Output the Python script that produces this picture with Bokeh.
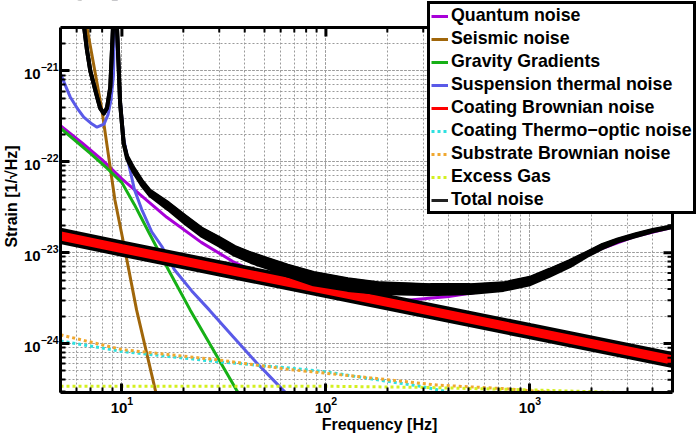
import math
from bokeh.plotting import figure
from bokeh.models import Legend, LegendItem, BoxAnnotation, Range1d
from bokeh.embed import file_html
from bokeh.resources import INLINE

# ---- data (frequency [Hz], strain [1/sqrt(Hz)]) ----
quantum_f = [5, 6.4, 8, 10, 12.2, 16.6, 24.5, 35, 50, 70, 100, 150, 250, 400, 600, 1000, 1570, 2270, 3310, 5000]
quantum_h = [2.5e-22, 1.6e-22, 1.05e-22, 6.5e-23, 4.4e-23, 2.45e-23, 1.3e-23, 8.0e-24, 5.5e-24, 4.1e-24,
             3.4e-24, 3.0e-24, 3.0e-24, 3.3e-24, 3.8e-24, 4.9e-24, 7.6e-24, 1.12e-23, 1.52e-23, 1.9e-23]

seismic_f = [6.5, 6.74, 7.98, 9.24, 10.35, 11.8, 14.65, 16]
seismic_h = [5e-21, 3.0e-21, 3.7e-22, 3.8e-23, 1.07e-23, 2.35e-24, 2.95e-25, 1.3e-25]

gravity_f = [5, 7, 8.45, 10, 11.5, 13.5, 16.9, 21.6, 36.4, 40]
gravity_h = [2.34e-22, 1.24e-22, 8.5e-23, 5.9e-23, 3.4e-23, 1.7e-23, 6.5e-24, 2.35e-24, 3.1e-25, 2.2e-25]

susp_f = [5, 5.57, 6.03, 6.5, 7.14, 7.55, 8.17, 8.55, 8.84, 9.09, 9.3, 9.55, 9.8, 10.2, 10.8, 11.5, 12.5,
          14, 15.7, 18.1, 22, 26.8, 35, 45.6, 61.5, 70]
susp_h = [9.3e-22, 5.2e-22, 3.9e-22, 3.1e-22, 2.6e-22, 2.4e-22, 2.6e-22, 3.3e-22, 4.8e-22, 8.9e-22, 1e-20,
          2e-21, 5e-22, 1.8e-22, 9.5e-23, 5e-23, 3.0e-23, 1.7e-23, 1.17e-23, 6.5e-24, 3.8e-24, 2.35e-24,
          1.2e-24, 6.2e-25, 3.1e-25, 2.3e-25]

coat_brown_f = [5, 10, 100, 1000, 5000]
coat_brown_h = [1.53e-23, 1.11e-23, 3.9e-24, 1.37e-24, 6.6e-25]

coat_to_f = [5, 10, 30, 66, 100, 166, 290, 410, 600]
coat_to_h = [1.07e-24, 8.2e-25, 6.3e-25, 5.4e-25, 4.9e-25, 4.1e-25, 3.4e-25, 2.9e-25, 2.2e-25]

subst_f = [5, 10, 30, 66, 166, 350, 740, 1070, 2000]
subst_h = [1.25e-24, 8.6e-25, 6.6e-25, 5.2e-25, 4.2e-25, 3.5e-25, 3.2e-25, 3.0e-25, 2.7e-25]

gas_f = [5, 100, 300, 1000, 2700, 5000]
gas_h = [3.4e-25, 3.4e-25, 3.3e-25, 3.1e-25, 2.9e-25, 2.6e-25]

total_f = [6.2, 6.53, 6.74, 7.0, 7.55, 7.82, 8.15, 8.45, 8.77, 9.04, 9.2, 9.46, 9.61, 9.8, 10.2, 10.6,
           11.4, 12.5, 13.7, 16.9, 20.5, 24.5, 30, 35.6, 43, 52, 65, 87, 128, 185, 325, 510, 741, 1000,
           1250, 1567, 1900, 2270, 2700, 3310, 4000, 5000]
total_hi = [6e-21, 3.0e-21, 1.7e-21, 1.0e-21, 5.2e-22, 3.9e-22, 3.4e-22, 3.9e-22, 6.6e-22, 3.0e-21, 1e-20,
            3.0e-21, 1.3e-21, 4.4e-22, 1.6e-22, 1.15e-22, 8.5e-23, 6.2e-23, 4.8e-23, 3.5e-23, 2.5e-23,
            1.85e-23, 1.45e-23, 1.16e-23, 9.8e-24, 8.5e-24, 7.2e-24, 6.0e-24, 5.1e-24, 4.6e-24, 4.4e-24,
            4.4e-24, 4.6e-24, 5.3e-24, 6.5e-24, 8.1e-24, 1.0e-23, 1.22e-23, 1.4e-23, 1.6e-23, 1.78e-23, 1.96e-23]
total_lo = [6e-21, 3.0e-21, 1.7e-21, 1.0e-21, 5.2e-22, 3.9e-22, 3.4e-22, 3.9e-22, 6.6e-22, 3.0e-21, 1e-20,
            3.0e-21, 1.3e-21, 4.4e-22, 1.6e-22, 1.08e-22, 7.8e-23, 5.6e-23, 4.3e-23, 3.0e-23, 2.1e-23,
            1.55e-23, 1.2e-23, 9.5e-24, 7.9e-24, 6.8e-24, 5.6e-24, 4.5e-24, 3.9e-24, 3.6e-24, 3.5e-24,
            3.6e-24, 3.9e-24, 4.5e-24, 5.6e-24, 7.1e-24, 9.2e-24, 1.13e-23, 1.33e-23, 1.52e-23, 1.72e-23, 1.92e-23]

x_limits = (5, 5000)
y_limits = (2.9e-25, 3.0e-21)
x_major = [10, 100, 1000]
y_major = [1e-24, 1e-23, 1e-22, 1e-21]

FONT = "Liberation Sans"

# pixel geometry of the axes box inside the 698x436 page
W, H = 698, 436
BOX_L, BOX_R, BOX_T, BOX_B = 60, 672, 27, 392
ppd_x = (BOX_R - BOX_L) / math.log10(x_limits[1] / x_limits[0])
ppd_y = (BOX_B - BOX_T) / math.log10(y_limits[1] / y_limits[0])
x_ext = x_limits[1] * 10 ** ((W - BOX_R) / ppd_x)
y_ext = y_limits[1] * 10 ** (BOX_T / ppd_y)

p = figure(width=W, height=H, x_axis_type="log", y_axis_type="log",
           x_range=Range1d(x_limits[0], x_ext), y_range=Range1d(y_limits[0], y_ext),
           output_backend="svg", toolbar_location=None,
           min_border_left=BOX_L, min_border_right=0, min_border_top=0, min_border_bottom=H - BOX_B,
           x_axis_label="Frequency [Hz]", y_axis_label="Strain [1/\u221aHz]")

p.background_fill_color = "white"
p.border_fill_color = "white"
p.outline_line_color = None

for g in (p.xgrid[0], p.ygrid[0]):
    g.grid_line_color = "#9a9a9a"
    g.grid_line_dash = "2 2"
    g.grid_line_width = 1
    g.minor_grid_line_color = "#9a9a9a"
    g.minor_grid_line_dash = "2 2"
    g.minor_grid_line_width = 1

for ax in (p.xaxis[0], p.yaxis[0]):
    ax.axis_line_width = 3
    ax.axis_line_color = "black"
    ax.major_tick_in = 9
    ax.major_tick_out = 0
    ax.minor_tick_in = 5
    ax.minor_tick_out = 0
    ax.major_tick_line_width = 3
    ax.minor_tick_line_width = 2
    ax.major_tick_line_color = "black"
    ax.minor_tick_line_color = "black"
    ax.major_label_text_font = FONT
    ax.major_label_text_font_style = "bold"
    ax.major_label_text_font_size = "15px"
    ax.major_label_text_color = "black"
    ax.major_label_standoff = 2
    ax.axis_label_text_font = FONT
    ax.axis_label_text_font_style = "bold"
    ax.axis_label_text_font_size = "16px"
    ax.axis_label_text_color = "black"
    ax.axis_label_standoff = 1
p.xaxis[0].bounds = x_limits
p.yaxis[0].bounds = y_limits
p.xaxis[0].major_label_standoff = 4
p.xaxis[0].axis_label_standoff = 0

# legend-only keys, hidden beneath the wide bands
r_cb_key = p.line(coat_brown_f, coat_brown_h, line_color="#ff0000", line_width=3)
r_t_key = p.line(total_f, total_hi, line_color="#222222", line_width=3)

r_q = p.line(quantum_f, quantum_h, line_color="#a800d8", line_width=3)
r_s = p.line(seismic_f, seismic_h, line_color="#a0660a", line_width=3)
r_g = p.line(gravity_f, gravity_h, line_color="#16b016", line_width=3)
r_st = p.line(susp_f, susp_h, line_color="#5a5ae8", line_width=3)
p.line(coat_brown_f, coat_brown_h, line_color="black", line_width=16)
p.line(coat_brown_f, coat_brown_h, line_color="#ff0000", line_width=9)
r_to = p.line(coat_to_f, coat_to_h, line_color="#2ee0e0", line_width=3, line_dash="3 3")
r_sb = p.line(subst_f, subst_h, line_color="#f0a830", line_width=3, line_dash="3 3")
r_eg = p.line(gas_f, gas_h, line_color="#d4f020", line_width=3, line_dash="3 3")
p.varea(x=total_f, y1=total_lo, y2=total_hi, fill_color="black")
p.line(total_f, total_hi, line_color="black", line_width=4, line_join="round")
p.line(total_f, total_lo, line_color="black", line_width=4, line_join="round")

# white margins outside the box (top strip and right strip), drawn over the data
p.quad(left=[x_limits[0] / 10, x_limits[1]], right=[x_ext * 10, x_ext * 10],
       bottom=[y_limits[1], y_limits[0] / 10], top=[y_ext * 10, y_ext * 10],
       fill_color="white", line_color="white", line_width=1)

# inward ticks on the top and right edges of the box
def minor_positions(lo, hi):
    out = []
    for k in range(math.floor(math.log10(lo)) - 1, math.ceil(math.log10(hi)) + 1):
        for m in range(2, 10):
            v = m * 10.0 ** k
            if lo * 1.0001 < v < hi * 0.9999:
                out.append(v)
    return out

x_minor = minor_positions(*x_limits)
y_minor = minor_positions(*y_limits)
p.segment(x0=x_major, y0=[y_limits[1]] * len(x_major), x1=x_major,
          y1=[y_limits[1] / 10 ** (9 / ppd_y)] * len(x_major), line_color="black", line_width=3)
p.segment(x0=x_minor, y0=[y_limits[1]] * len(x_minor), x1=x_minor,
          y1=[y_limits[1] / 10 ** (5 / ppd_y)] * len(x_minor), line_color="black", line_width=2)
p.segment(x0=[x_limits[1]] * len(y_major), y0=y_major, x1=[x_limits[1] / 10 ** (9 / ppd_x)] * len(y_major),
          y1=y_major, line_color="black", line_width=3)
p.segment(x0=[x_limits[1]] * len(y_minor), y0=y_minor, x1=[x_limits[1] / 10 ** (5 / ppd_x)] * len(y_minor),
          y1=y_minor, line_color="black", line_width=2)

# grid-free white margins (annotation level covers the underlay grid), then the box outline
p.add_layout(BoxAnnotation(left=x_limits[0] / 10, right=x_ext * 10, bottom=y_limits[1], top=y_ext * 10,
                           fill_color="white", fill_alpha=1, line_color=None))
p.add_layout(BoxAnnotation(left=x_limits[1], right=x_ext * 10, bottom=y_limits[0] / 10, top=y_ext * 10,
                           fill_color="white", fill_alpha=1, line_color=None))
p.add_layout(BoxAnnotation(left=x_limits[0], right=x_limits[1], bottom=y_limits[0], top=y_limits[1],
                           fill_color=None, fill_alpha=0, line_color="black", line_alpha=1, line_width=3))

legend = Legend(items=[
    LegendItem(label="Quantum noise", renderers=[r_q]),
    LegendItem(label="Seismic noise", renderers=[r_s]),
    LegendItem(label="Gravity Gradients", renderers=[r_g]),
    LegendItem(label="Suspension thermal noise", renderers=[r_st]),
    LegendItem(label="Coating Brownian noise", renderers=[r_cb_key]),
    LegendItem(label="Coating Thermo\u2212optic noise", renderers=[r_to]),
    LegendItem(label="Substrate Brownian noise", renderers=[r_sb]),
    LegendItem(label="Excess Gas", renderers=[r_eg]),
    LegendItem(label="Total noise", renderers=[r_t_key]),
], location=(367, 178))
legend.border_line_color = "black"
legend.border_line_alpha = 1
legend.border_line_width = 3
legend.background_fill_color = "white"
legend.background_fill_alpha = 1
legend.label_text_font = FONT
legend.label_text_font_style = "bold"
legend.label_text_font_size = "17.8px"
legend.label_text_color = "black"
legend.glyph_width = 17
legend.glyph_height = 20
legend.label_height = 20
legend.label_standoff = 3
legend.spacing = 2
legend.padding = 1
legend.margin = 0
p.add_layout(legend)

open("out.html", "w").write(file_html(p, INLINE))
